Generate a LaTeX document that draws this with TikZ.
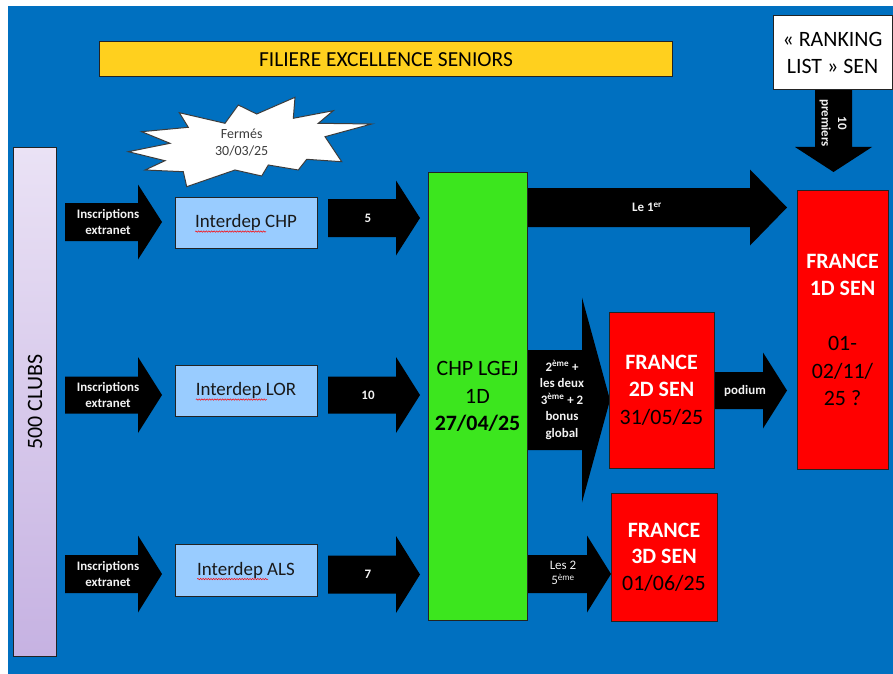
\documentclass[tikz,border=0pt]{standalone}
\usepackage{fontspec}
\setmainfont{Carlito}
\usetikzlibrary{decorations.pathmorphing}
\definecolor{bgblue}{RGB}{0,112,192}
\definecolor{yellowbar}{RGB}{255,208,30}
\definecolor{lightblue}{RGB}{153,204,255}
\definecolor{chpgreen}{RGB}{60,230,30}
\definecolor{frred}{RGB}{255,0,0}
\definecolor{lavtop}{RGB}{234,226,245}
\definecolor{lavbot}{RGB}{198,178,226}
\definecolor{boxline}{RGB}{35,35,35}
\definecolor{labwhite}{RGB}{242,242,242}
\definecolor{textdark}{RGB}{25,25,25}
\definecolor{burstline}{RGB}{60,60,60}
\newcommand{\blkarrow}[6]{\fill[black] (#1,{#4-#5}) -- (#2,{#4-#5}) -- (#2,{#4-#6}) -- (#3,#4) -- (#2,{#4+#6}) -- (#2,{#4+#5}) -- (#1,{#4+#5}) -- cycle;}
\begin{document}
\begin{tikzpicture}[x=1bp,y=-1bp,
  box/.style={draw=boxline, line width=1bp, inner sep=0pt, align=center, text=black},
  interbox/.style={box, fill=lightblue, minimum width=142bp, minimum height=51bp, font=\fontsize{19}{23}\selectfont, text=textdark},
  frbox/.style={box, fill=frred, font=\fontsize{22}{27.5}\selectfont},
  arrowlab/.style={text=labwhite, font=\bfseries\fontsize{13}{16.5}\selectfont, align=center, inner sep=0pt},
  squiggle/.style={red, line width=0.5bp, decorate, decoration={snake, amplitude=0.7bp, segment length=2.6bp}}
]
\useasboundingbox (0,0) rectangle (893,674);
\fill[white] (0,0) rectangle (893,674);
\fill[bgblue] (8,6) rectangle (893,674);

% block arrows
\blkarrow{65}{138}{162}{222}{19}{37.5}
\blkarrow{65}{138}{162}{395}{18.5}{38}
\blkarrow{65}{138}{162}{574}{19}{38.5}
\blkarrow{328}{396}{420}{218}{19}{37.5}
\blkarrow{328}{396}{420}{395}{18.5}{38}
\blkarrow{328}{396}{420}{574.5}{19}{38.5}
\blkarrow{527}{750}{787}{207.5}{19.5}{38}
\blkarrow{527}{582}{610}{400}{50}{102.5}
\blkarrow{714}{763}{787}{390.5}{18.5}{38}
\blkarrow{527}{587}{611}{574}{19}{38.5}
\fill[black] (815,90) -- (815,147) -- (795,147) -- (833.5,172) -- (872,147) -- (852,147) -- (852,90) -- cycle;

% starburst
\filldraw[fill=white, draw=burstline, line width=1bp, line join=miter]
  (179.3,112.7) -- (225,123.3) -- (238.3,105) -- (256.7,114) -- (295,97.3) -- (293.3,118.3)
  -- (333.3,110.7) -- (318.3,123.3) -- (371.7,124) -- (325,136.7) -- (341.7,161.7) -- (306.7,159.3)
  -- (298.3,170) -- (268.3,165) -- (261.7,176) -- (235,170) -- (186.7,186.7) -- (183.3,171.7)
  -- (145,170) -- (165,160.7) -- (128.3,151.7) -- (170,143.3) -- (141.7,131.7) -- (188.3,127.3) -- cycle;
\node[align=center, inner sep=0pt, text=burstline, font=\fontsize{14}{16.7}\selectfont] (ferm) at (241.7,142.5) {Fermés\\30/03/25};

% boxes
\node[box, fill=yellowbar, minimum width=572bp, minimum height=35bp, font=\fontsize{21.5}{26}\selectfont] (title) at (386,59.5) {FILIERE EXCELLENCE SENIORS};
\node[box, fill=white, minimum width=119bp, minimum height=74bp, font=\fontsize{22}{28}\selectfont] (rank) at (832.5,53) {« RANKING\\LIST » SEN};
\node[box, top color=lavtop, bottom color=lavbot, minimum width=42bp, minimum height=508bp] (clubs) at (35,402) {};
\node[rotate=90, inner sep=0pt, font=\fontsize{22}{26}\selectfont] (clubslab) at (clubs.center) {500 CLUBS};

\node[interbox] (i1) at (246,222.5) {Interdep CHP};
\node[interbox] (i2) at (246,390.5) {Interdep LOR};
\node[interbox, minimum height=52bp] (i3) at (246,570) {Interdep ALS};
\draw[squiggle] ([yshift=-4bp]i1.text) -- ++(71,0);
\draw[squiggle] ([yshift=-4bp]i2.text) -- ++(71,0);
\draw[squiggle] ([yshift=-4bp]i3.text) -- ++(71,0);

\node[box, fill=chpgreen, minimum width=99bp, minimum height=447bp, font=\fontsize{22}{27.5}\selectfont] (chp) at (477.5,396.5) {CHP LGEJ\\1D\\\textbf{27/04/25}};
\node[frbox, minimum width=105bp, minimum height=156bp] (fr2) at (661.5,390) {\textcolor{white}{\textbf{FRANCE}}\\\textcolor{white}{\textbf{2D SEN}}\\31/05/25};
\node[frbox, minimum width=91bp, minimum height=278bp] (fr1) at (842.5,330) {\textcolor{white}{\textbf{FRANCE}}\\\textcolor{white}{\textbf{1D SEN}}\\[27.5bp]01-\\02/11/\\25 ?};
\node[frbox, minimum width=106bp, minimum height=128bp, font=\fontsize{22}{26.5}\selectfont] (fr3) at (664,557) {\textcolor{white}{\textbf{FRANCE}}\\\textcolor{white}{\textbf{3D SEN}}\\01/06/25};

% arrow labels
\node[arrowlab] (ins1) at (108,222) {Inscriptions\\extranet};
\node[arrowlab] (ins2) at (108,395) {Inscriptions\\extranet};
\node[arrowlab] (ins3) at (108,574) {Inscriptions\\extranet};
\node[arrowlab] (n1) at (368,218) {5};
\node[arrowlab] (n2) at (368,395) {10};
\node[arrowlab] (n3) at (368,574.5) {7};
\node[arrowlab] (first) at (647,207.5) {Le 1\textsuperscript{er}};
\node[arrowlab] (second) at (562,400) {2\textsuperscript{ème} +\\les deux\\3\textsuperscript{ème} + 2\\bonus\\global};
\node[arrowlab] (pod) at (745,390.5) {podium};
\node[arrowlab, font=\fontsize{13}{14.5}\selectfont] (fifth) at (563,573) {Les 2\\5\textsuperscript{ème}};
\node[arrowlab, rotate=-90] (ten) at (833,123) {10\\premiers};
\end{tikzpicture}
\end{document}
